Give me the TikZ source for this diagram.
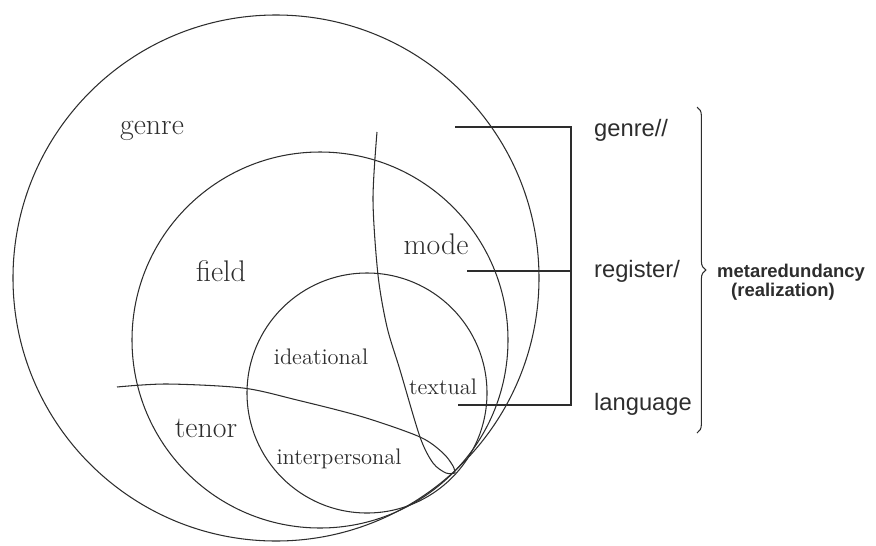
\documentclass[tikz,border=0pt]{standalone}
\usepackage{fontspec}
\setsansfont{Liberation Sans}
\usepackage{tikz}
\usetikzlibrary{calc, decorations.pathreplacing}
\definecolor{ink}{RGB}{45, 45, 45}

\tikzset{
  ring/.style={ink, line width=0.6pt},
  bar/.style={ink, line width=0.75pt},
  biglabel/.style={ink, font=\fontsize{17}{20}\selectfont},
  smalllabel/.style={ink, font=\fontsize{12.8}{15}\selectfont},
  sidelabel/.style={ink, anchor=west, font=\sffamily\fontsize{13.5}{16}\selectfont},
}

\begin{document}
\begin{tikzpicture}[x=0.02cm, y=0.02cm]
  \useasboundingbox (0, 0) rectangle (876, -545);

  % centres of the three strata
  \coordinate (genreC) at (276, -278);
  \coordinate (registerC) at (320, -340);
  \coordinate (languageC) at (367, -393);
  \coordinate (tip) at (455, -473);

  \draw[ring] (genreC) circle (263);
  \draw[ring] (registerC) circle (188);
  \draw[ring] (languageC) circle (120);

  % mode and tenor cuts
  \draw[ring] plot[smooth] coordinates {(377,-132) (373,-200) (378,-275)
    (387,-327) (400,-370) (420,-437) (433,-463) (446,-473) (tip)};
  \draw[ring] plot[smooth] coordinates {(117,-387) (167,-384) (243,-388)
    (297,-400) (363,-417) (420,-437) (443,-453) (453,-466) (tip)};

  \node[biglabel] (genre) at (152, -131) {genre};
  \node[biglabel] (field) at (221, -271) {field};
  \node[biglabel] (mode) at (436, -244) {mode};
  \node[biglabel] (tenor) at (206, -428) {tenor};

  \node[smalllabel] (ideational) at (321, -357) {ideational};
  \node[smalllabel] (textual) at (443, -387) {textual};
  \node[smalllabel] (interpersonal) at (339, -459) {interpersonal};

  % bracket to the strata names
  \coordinate (gEnd) at (455, -127);
  \coordinate (rEnd) at (467, -271);
  \coordinate (lEnd) at (458, -405);
  \coordinate (spineTop) at (571, -127);
  \coordinate (spineBot) at (571, -405);
  \draw[bar] (gEnd) -- (spineTop) -- (spineBot) -- (lEnd);
  \draw[bar] (rEnd) -- (rEnd -| spineTop);

  \node[sidelabel] (genreR) at (588, -130) {genre//};
  \node[sidelabel] (registerR) at (588, -271) {register/};
  \node[sidelabel] (languageR) at (588, -404) {language};

  \coordinate (braceTop) at (697, -107);
  \coordinate (braceBot) at (697, -433);
  \draw[ink, line width=0.6pt, decorate, decoration={brace, amplitude=5pt}]
    (braceTop) -- (braceBot);

  \node[ink, anchor=west, font=\sffamily\bfseries\fontsize{10.5}{12}\selectfont]
    (meta) at (711, -273) {metaredundancy};
  \node[ink, anchor=west, font=\sffamily\bfseries\fontsize{10.5}{12}\selectfont]
    (real) at (725, -292) {(realization)};
\end{tikzpicture}
\end{document}
